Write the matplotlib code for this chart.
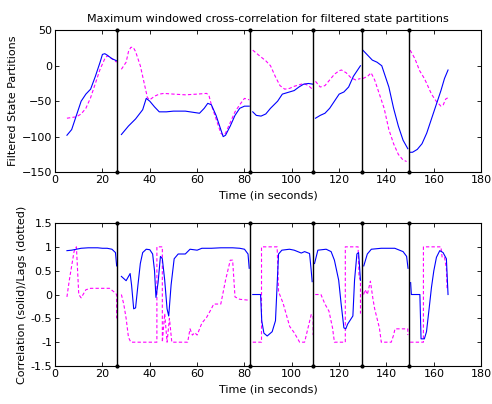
import matplotlib
matplotlib.use("Agg")
import matplotlib.pyplot as plt

# ---- boundaries between partitions (seconds)
boundaries = [26, 82.5, 109, 129.5, 149.3]

# ---- top panel: filtered state partitions, solid (blue) and dashed (magenta)
top_solid_x = [
    [5, 7, 9, 11, 13, 15, 17, 19, 20, 21, 22, 24, 26],
    [28, 31, 34, 37, 38.5, 40, 42, 44, 47, 50, 55, 59, 61, 63, 64.5, 66, 68, 70, 71, 72, 74, 76, 78, 80, 82],
    [83.5, 85, 87, 89, 91, 94, 96, 99, 101, 103, 105, 107, 109],
    [110, 112, 114, 116, 118, 120, 122, 124, 126, 128, 129],
    [130, 132, 134, 136, 138, 139, 141, 143, 145, 147, 149],
    [150, 151, 153, 155, 157, 159, 161, 163, 164.5, 166],
]
top_solid_y = [
    [-98, -90, -70, -50, -40, -33, -15, 5, 16, 17, 15, 10, 7],
    [-97, -85, -75, -62, -46, -50, -58, -65, -65, -64, -64, -66, -67, -60, -53, -55, -70, -90, -100, -98, -85, -70, -60, -57, -57],
    [-65, -70, -71, -68, -60, -50, -40, -37, -35, -30, -26, -25, -26],
    [-74, -70, -67, -60, -50, -40, -37, -30, -15, -5, 0],
    [22, 15, 8, 5, 0, -10, -30, -60, -85, -105, -117],
    [-122, -122, -118, -110, -95, -75, -55, -35, -18, -6],
]
top_dash_x = [
    [5, 7, 9, 11, 13, 15, 17, 19, 21, 22, 24, 26],
    [28, 30, 31, 32, 33, 34, 36, 38, 39, 40, 42, 44, 46, 50, 55, 60, 64, 65, 66, 68, 70, 71, 72, 74, 76, 78, 80, 82],
    [83.5, 86, 89, 91, 93, 95, 97, 99, 101, 103, 105, 107, 109],
    [110, 112, 114, 116, 118, 120, 121, 123, 125, 127, 129],
    [130, 132, 133.5, 135, 137, 139, 141, 143, 145, 147, 148.5],
    [150, 152, 154, 156, 157, 159, 161, 163, 164, 165, 166],
]
top_dash_y = [
    [-74, -73, -72, -68, -60, -45, -25, -5, 10, 14, 10, 5],
    [-5, 5, 20, 26, 26, 20, 0, -30, -45, -48, -43, -40, -39, -40, -41, -40, -39, -42, -55, -75, -95, -98, -95, -80, -65, -55, -46, -48],
    [22, 15, 7, 0, -15, -28, -33, -32, -29, -27, -25, -28, -34],
    [-22, -30, -28, -20, -12, -7, -6, -10, -17, -20, -18],
    [-18, -15, -10, -20, -40, -60, -90, -110, -125, -133, -135],
    [22, 10, -7, -18, -25, -40, -50, -57, -55, -47, -45],
]

# ---- bottom panel: correlation (solid blue) and lags (dotted magenta)
bot_solid_x = [
    [5, 7, 9, 11, 14, 18, 20, 22, 24, 25.5, 26],
    [28, 30, 31.7, 32.3, 33.2, 34, 35, 36, 37, 38.5, 40, 41.2, 42, 42.6, 43.5, 44.5, 45.3, 46.3, 47.3, 48, 49, 50.3, 52, 55, 57, 60, 62, 66, 70, 75, 78, 80, 81.5, 82],
    [83.5, 86.8, 87.3, 88.2, 89.6, 91.7, 93.1, 94.4, 95.8, 99, 101, 104, 105.4, 107.5, 108.2, 108.6],
    [109.6, 111, 114.5, 116.6, 118, 119.8, 120.8, 122, 122.8, 123.6, 125.8, 126.5, 127.5, 128.2, 128.6, 129],
    [130.4, 131.9, 133.6, 137.8, 143.5, 147, 148.5, 149.1],
    [150.2, 150.5, 154.1, 154.6, 156, 156.9, 158, 159, 160, 161.1, 162.5, 163.9, 165.3, 166],
]
bot_solid_y = [
    [0.92, 0.93, 0.95, 0.97, 0.98, 0.98, 0.97, 0.97, 0.95, 0.88, 0.6],
    [0.38, 0.29, 0.44, 0.2, -0.3, -0.28, 0.2, 0.65, 0.88, 0.95, 0.94, 0.85, 0.5, -0.06, 0.25, 0.8, 0.75, 0.3, -0.3, -0.45, 0.2, 0.75, 0.85, 0.85, 0.95, 0.93, 0.97, 0.97, 0.98, 0.98, 0.97, 0.95, 0.85, 0.55],
    [0.0, 0.0, -0.55, -0.81, -0.87, -0.78, -0.55, 0.85, 0.93, 0.95, 0.93, 0.87, 0.9, 0.86, 0.5, 0.27],
    [0.65, 0.93, 0.95, 0.9, 0.72, 0.3, -0.18, -0.7, -0.72, -0.62, -0.45, 0.3, 0.85, 0.88, 0.6, 0.3],
    [0.6, 0.85, 0.95, 0.97, 0.97, 0.9, 0.8, 0.55],
    [0.25, 0.0, 0.0, -0.93, -0.93, -0.78, -0.3, 0.15, 0.5, 0.78, 0.92, 0.88, 0.75, 0.0],
]
bot_dash_x = [
    [5, 6, 8, 9, 10, 11, 13, 15, 23, 25, 26, 26],
    [28, 29, 30, 31, 32, 43, 43, 45.3, 45.3, 46.3, 47.3, 48.3, 49.3, 50.3, 56, 57, 58, 59, 60, 62, 64, 66, 67, 70, 72, 74, 75, 76, 78, 82],
    [83.5, 87.2, 87.2, 93.8, 94.4, 96.3, 99.1, 101, 103.3, 105.4, 108.2, 109, 109],
    [109.9, 112.3, 114, 115.7, 117.2, 118, 122.6, 122.6, 128, 128.4, 129, 129],
    [130.3, 131, 131.9, 133.2, 134.3, 135, 136, 137, 137.8, 142, 143, 143.6, 149, 149],
    [150, 155.6, 155.6, 163, 163.5, 164.5, 165.3, 165.6],
]
bot_dash_y = [
    [-0.05, 0.3, 0.9, 1.0, 0.0, -0.07, 0.1, 0.13, 0.13, 0.05, 0.0, -0.5],
    [0.0, -0.2, -0.5, -0.9, -1.0, -1.0, 1.0, 1.0, -1.0, -0.4, -1.0, -0.5, -1.0, -1.0, -1.0, -0.72, -0.85, -0.8, -0.85, -0.6, -0.48, -0.3, -0.2, -0.2, 0.3, 0.72, 0.72, -0.05, -0.1, -0.12],
    [-1.0, -1.0, 1.0, 1.0, 0.06, -0.18, -0.67, -0.8, -1.0, -1.0, -0.42, -0.45, -0.85],
    [0.0, 0.0, -0.2, -0.35, -0.7, -1.0, -1.0, 1.0, 1.0, 0.37, 0.3, -0.4],
    [0.0, 0.1, 0.0, 0.28, -0.1, -0.3, -0.5, -0.7, -1.0, -1.0, -0.85, -0.72, -0.72, -0.85],
    [-1.0, -1.0, 1.0, 1.0, 0.78, 0.78, 0.55, 0.1],
]

title = "Maximum windowed cross-correlation for filtered state partitions"
xlabel = "Time (in seconds)"
top_ylabel = "Filtered State Partitions"
bot_ylabel = "Correlation (solid)/Lags (dotted)"
xticks = [0, 20, 40, 60, 80, 100, 120, 140, 160, 180]
top_yticks = [-150, -100, -50, 0, 50]
bot_yticks = [-1.5, -1, -0.5, 0, 0.5, 1, 1.5]
bot_yticklabels = ["-1.5", "-1", "-0.5", "0", "0.5", "1", "1.5"]

BLUE = "#0000ff"
MAG = "#ff00ff"
FS = 8

fig = plt.figure(figsize=(4.92, 4.04), dpi=100)
ax1 = fig.add_axes([0.112, 0.574, 0.866, 0.351])
ax2 = fig.add_axes([0.112, 0.094, 0.866, 0.354])


def style(ax, ylim, yticks, yticklabels=None):
    ax.set_xlim(0, 180)
    ax.set_ylim(*ylim)
    ax.set_xticks(xticks)
    ax.set_yticks(yticks)
    if yticklabels is not None:
        ax.set_yticklabels(yticklabels)
    ax.tick_params(direction="in", top=True, right=True, labelsize=FS,
                   length=3, width=0.6, pad=2)
    for s in ax.spines.values():
        s.set_linewidth(0.8)
    ax.set_xlabel(xlabel, fontsize=FS, labelpad=4)


for xs, ys in zip(top_dash_x, top_dash_y):
    ax1.plot(xs, ys, color=MAG, ls=(0, (3, 2)), lw=0.8)
for xs, ys in zip(top_solid_x, top_solid_y):
    ax1.plot(xs, ys, color=BLUE, lw=0.8)
for xs, ys in zip(bot_dash_x, bot_dash_y):
    ax2.plot(xs, ys, color=MAG, ls=(0, (3, 2)), lw=0.8)
for xs, ys in zip(bot_solid_x, bot_solid_y):
    ax2.plot(xs, ys, color=BLUE, lw=0.8)

for ax, ylim in ((ax1, (-150, 50)), (ax2, (-1.5, 1.5))):
    for b in boundaries:
        ax.plot([b, b], list(ylim), color="black", lw=1.0, marker="o",
                markersize=2, clip_on=False, zorder=5)

style(ax1, (-150, 50), top_yticks)
style(ax2, (-1.5, 1.5), bot_yticks, bot_yticklabels)
ax1.set_ylabel(top_ylabel, fontsize=FS, labelpad=3)
ax2.set_ylabel(bot_ylabel, fontsize=FS, labelpad=3)
ax1.set_title(title, fontsize=FS, pad=6)

fig.savefig("out.png", dpi=100)
